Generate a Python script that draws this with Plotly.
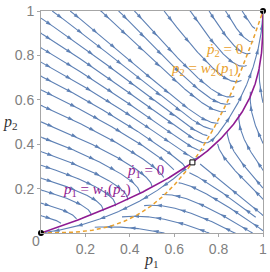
import math
from collections import deque
import numpy as np
import plotly.graph_objects as go

# ---- model read from the two nullclines (p1 = w1(p2), p2 = w2(p1)) ----
SAMPLE_SIZE = 3          # w1(p2) = 1-(1-p2)^3 , w2(p1) = p1^3
RATE_P1 = 1.0
RATE_P2 = 0.7

# ---- fixed points ----
STABLE_P1 = [0.0, 1.0]
STABLE_P2 = [0.0, 1.0]
SADDLE_P1 = [0.682]
SADDLE_P2 = [0.318]

# ---- ticks ----
TICK_VALUES = [0.2, 0.4, 0.6, 0.8, 1.0]
TICK_LABELS = ["0.2", "0.4", "0.6", "0.8", "1"]

# ---- colours ----
STREAM_COLOR = "#5E81B5"
PURPLE = "#8E1B92"
ORANGE = "#E9A12E"


def w1(p2):
    return 1 - (1 - p2) ** SAMPLE_SIZE


def w2(p1):
    return p1 ** SAMPLE_SIZE


def velocity(p1, p2):
    return RATE_P1 * (w1(p2) - p1), RATE_P2 * (w2(p1) - p2)


# ---------------- evenly spaced streamlines ----------------
DSEP = 0.055
DTEST = 0.5 * DSEP
H = 0.004
CELL = DSEP
grid = {}


def cell_of(x, y):
    return int(math.floor(x / CELL)), int(math.floor(y / CELL))


def too_close(x, y, d):
    ci, cj = cell_of(x, y)
    d2 = d * d
    for i in range(ci - 1, ci + 2):
        for j in range(cj - 1, cj + 2):
            for (qx, qy) in grid.get((i, j), ()):
                if (qx - x) ** 2 + (qy - y) ** 2 < d2:
                    return True
    return False


def unit(x, y):
    u, v = velocity(x, y)
    s = math.hypot(u, v)
    if s < 1e-7:
        return None
    return u / s, v / s


def trace(x0, y0, sign):
    pts = []
    x, y = x0, y0
    for _ in range(4000):
        d = unit(x, y)
        if d is None:
            break
        mx, my = x + 0.5 * H * sign * d[0], y + 0.5 * H * sign * d[1]
        d2 = unit(mx, my)
        if d2 is None:
            break
        nx, ny = x + H * sign * d2[0], y + H * sign * d2[1]
        out = not (0 <= nx <= 1 and 0 <= ny <= 1)
        if out:
            nx, ny = min(max(nx, 0.0), 1.0), min(max(ny, 0.0), 1.0)
        if too_close(nx, ny, DTEST):
            break
        u, v = velocity(nx, ny)
        if math.hypot(u, v) < 2e-3:
            break
        pts.append((nx, ny))
        if out:
            break
        x, y = nx, ny
    return pts


lines = []


def make_line(x0, y0):
    if too_close(x0, y0, DSEP * 0.95):
        return None
    back = trace(x0, y0, -1)
    fwd = trace(x0, y0, 1)
    pts = back[::-1] + [(x0, y0)] + fwd
    if len(pts) < 6:
        return None
    for (px, py) in pts:
        grid.setdefault(cell_of(px, py), []).append((px, py))
    lines.append(pts)
    return pts


queue = deque()
first = make_line(0.3, 0.7)
if first:
    queue.append(first)


def process_queue():
    while queue:
        ln = queue.popleft()
        for k in range(0, len(ln), 4):
            px, py = ln[k]
            d = unit(px, py)
            if d is None:
                continue
            nx_, ny_ = -d[1], d[0]
            for s in (1, -1):
                cx, cy = px + s * DSEP * nx_, py + s * DSEP * ny_
                if 0 < cx < 1 and 0 < cy < 1:
                    new = make_line(cx, cy)
                    if new:
                        queue.append(new)


process_queue()
for gx in np.arange(0.01, 1.0, DSEP / 2):
    for gy in np.arange(0.01, 1.0, DSEP / 2):
        new = make_line(float(gx), float(gy))
        if new:
            queue.append(new)
            process_queue()

# assemble line trace
lx, ly = [], []
for ln in lines:
    lx.extend([p[0] for p in ln] + [None])
    ly.extend([p[1] for p in ln] + [None])

# arrows along each line
ARROW_GAP = 0.11
SX, SY = 226.0, 224.0
ax_, ay_, ang = [], [], []
for ln in lines:
    arr = np.array(ln)
    seg = np.hypot(np.diff(arr[:, 0]), np.diff(arr[:, 1]))
    cum = np.concatenate([[0], np.cumsum(seg)])
    L = cum[-1]
    if L < 0.02:
        continue
    n = max(1, int(round(L / ARROW_GAP)))
    for k in range(n):
        s = (k + 0.5) * L / n
        px = float(np.interp(s, cum, arr[:, 0]))
        py = float(np.interp(s, cum, arr[:, 1]))
        u, v = velocity(px, py)
        ax_.append(px)
        ay_.append(py)
        ang.append(math.degrees(math.atan2(u * SX, v * SY)))

# nullclines
P2_GRID = np.linspace(0, 1, 201)
P1_GRID = np.linspace(0, 1, 201)

fig = go.Figure()
fig.add_trace(go.Scatter(x=lx, y=ly, mode="lines",
                         line=dict(color=STREAM_COLOR, width=1.1),
                         hoverinfo="skip", showlegend=False))
fig.add_trace(go.Scatter(x=ax_, y=ay_, mode="markers",
                         marker=dict(symbol="arrow", size=6, angle=ang,
                                     color=STREAM_COLOR, line=dict(width=0)),
                         hoverinfo="skip", showlegend=False))
fig.add_trace(go.Scatter(x=w1(P2_GRID), y=P2_GRID, mode="lines",
                         line=dict(color=PURPLE, width=1.6),
                         showlegend=False, cliponaxis=False))
fig.add_trace(go.Scatter(x=P1_GRID, y=w2(P1_GRID), mode="lines",
                         line=dict(color=ORANGE, width=1.5, dash="4px,3px"),
                         showlegend=False, cliponaxis=False))
fig.add_trace(go.Scatter(x=STABLE_P1, y=STABLE_P2, mode="markers",
                         marker=dict(color="black", size=6),
                         showlegend=False, cliponaxis=False))
fig.add_trace(go.Scatter(x=SADDLE_P1, y=SADDLE_P2, mode="markers",
                         marker=dict(symbol="square", color="white", size=5,
                                     line=dict(color="black", width=1)),
                         showlegend=False, cliponaxis=False))

SERIF = "Liberation Serif"
labels = [
    ("<i>ṗ</i><sub>2</sub> = 0", 0.827, 0.826, ORANGE),
    ("<i>p</i><sub>2</sub> = <i>w</i><sub>2</sub>(<i>p</i><sub>1</sub>)", 0.739, 0.741, ORANGE),
    ("<i>ṗ</i><sub>1</sub> = 0", 0.469, 0.281, PURPLE),
    ("<i>p</i><sub>1</sub> = <i>w</i><sub>1</sub>(<i>p</i><sub>2</sub>)", 0.254, 0.192, PURPLE),
]
for txt, x, y, c in labels:
    fig.add_annotation(x=x, y=y, xref="x", yref="y", text=txt, showarrow=False,
                       xanchor="center", yanchor="middle",
                       font=dict(family=SERIF, size=15, color=c))

fig.add_annotation(x=0.496, y=-0.125, xref="paper", yref="paper",
                   text="<i>p</i><sub>1</sub>", showarrow=False,
                   xanchor="center", yanchor="middle",
                   font=dict(family=SERIF, size=16, color="#333333"))
fig.add_annotation(x=-0.137, y=0.50, xref="paper", yref="paper",
                   text="<i>p</i><sub>2</sub>", showarrow=False,
                   xanchor="center", yanchor="middle",
                   font=dict(family=SERIF, size=16, color="#333333"))
fig.add_annotation(x=-0.024, y=-0.034, xref="paper", yref="paper",
                   text="0", showarrow=False,
                   xanchor="center", yanchor="middle",
                   font=dict(family="Liberation Sans", size=14, color="#808080"))

axis_common = dict(range=[0, 1], showgrid=False, zeroline=False,
                   showline=True, mirror=True, linecolor="#A6A6A6", linewidth=1,
                   ticks="outside", ticklen=3, tickcolor="#A6A6A6",
                   tickvals=TICK_VALUES, ticktext=TICK_LABELS,
                   ticklabeloverflow="allow",
                   tickfont=dict(family="Liberation Sans", size=14, color="#808080"))
fig.update_xaxes(**axis_common)
fig.update_yaxes(**axis_common)
fig.update_layout(width=270, height=272,
                  margin=dict(l=41, r=3, t=9, b=39),
                  plot_bgcolor="white", paper_bgcolor="white",
                  hovermode=False)

fig.write_html("out.html", config={"displayModeBar": False},
               post_script="document.body.style.margin='0px';document.body.style.overflow='hidden';")
